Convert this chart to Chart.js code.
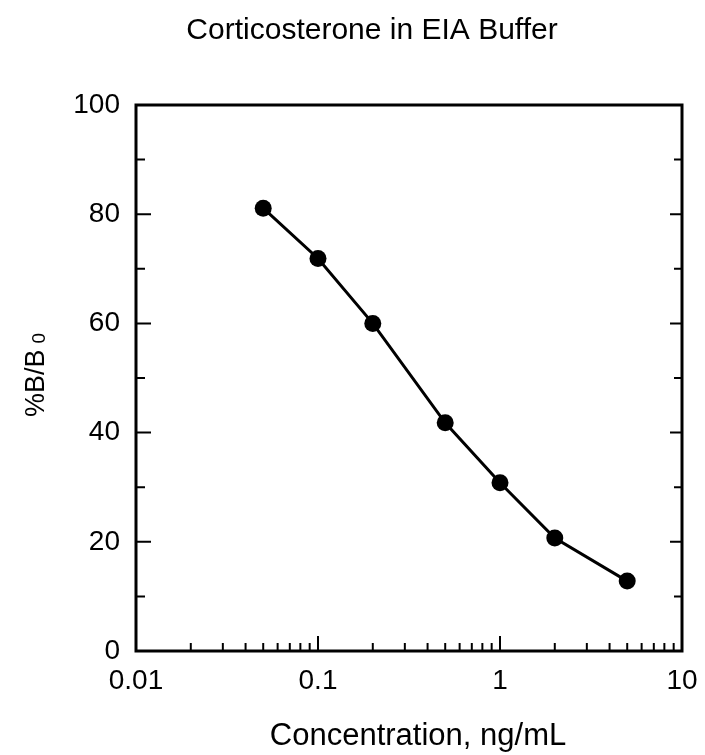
<!DOCTYPE html>
<html>
<head>
<meta charset="utf-8">
<title>Corticosterone in EIA Buffer</title>
<script src="https://cdn.jsdelivr.net/npm/chart.js@4.4.1/dist/chart.umd.min.js"></script>
<style>
  html, body { margin: 0; padding: 0; background: #fff; }
  #wrap { width: 705px; height: 755px; }
</style>
</head>
<body>
<div id="wrap"><canvas id="curve" width="705" height="755"></canvas></div>
<script>
// standard curve
const concentrations = [0.05, 0.1, 0.2, 0.5, 1, 2, 5];
const percentBound = [81.1, 71.9, 60.0, 41.8, 30.8, 20.7, 12.8];

const xMajorTicks = [0.01, 0.1, 1, 10];
const xMinorTicks = [
    0.02, 0.03, 0.04, 0.05, 0.06, 0.07, 0.08, 0.09,
    0.2, 0.3, 0.4, 0.5, 0.6, 0.7, 0.8, 0.9,
    2, 3, 4, 5, 6, 7, 8, 9,
];
const yMajorTicks = [0, 20, 40, 60, 80, 100];
const yMinorTicks = [10, 30, 50, 70, 90];

const FONT = "'Liberation Sans', Arial, Helvetica, sans-serif";
const INK = "#000";

// box round the plot plus the inward tick marks
const framePlugin = {
    id: "frame",
    afterDatasetsDraw(chart) {
        const { ctx, chartArea: a, scales } = chart;
        const x = scales.x;
        const y = scales.y;
        ctx.save();
        ctx.strokeStyle = INK;
        ctx.lineCap = "butt";

        ctx.lineWidth = 2;
        for (const v of xMajorTicks) {
            const px = x.getPixelForValue(v);
            ctx.beginPath();
            ctx.moveTo(px, a.bottom);
            ctx.lineTo(px, a.bottom - 15);
            ctx.stroke();
        }
        for (const v of xMinorTicks) {
            const px = x.getPixelForValue(v);
            ctx.beginPath();
            ctx.moveTo(px, a.bottom);
            ctx.lineTo(px, a.bottom - 8);
            ctx.stroke();
        }
        for (const v of yMajorTicks) {
            const py = y.getPixelForValue(v);
            ctx.beginPath();
            ctx.moveTo(a.left, py);
            ctx.lineTo(a.left + 15, py);
            ctx.moveTo(a.right, py);
            ctx.lineTo(a.right - 12, py);
            ctx.stroke();
        }
        for (const v of yMinorTicks) {
            const py = y.getPixelForValue(v);
            ctx.beginPath();
            ctx.moveTo(a.left, py);
            ctx.lineTo(a.left + 9, py);
            ctx.moveTo(a.right, py);
            ctx.lineTo(a.right - 8, py);
            ctx.stroke();
        }

        ctx.lineWidth = 3;
        ctx.strokeRect(a.left, a.top, a.right - a.left, a.bottom - a.top);
        ctx.restore();
    },
};

// title and axis captions (the y caption needs a subscript)
const captionPlugin = {
    id: "captions",
    afterDraw(chart) {
        const { ctx } = chart;
        ctx.save();
        ctx.fillStyle = INK;
        ctx.textBaseline = "alphabetic";

        ctx.font = `30px ${FONT}`;
        ctx.textAlign = "center";
        ctx.fillText("Corticosterone in EIA Buffer", 372, 39);

        ctx.font = `31px ${FONT}`;
        ctx.fillText("Concentration, ng/mL", 418, 745);

        ctx.translate(44, 417);
        ctx.rotate(-Math.PI / 2);
        ctx.textAlign = "left";
        ctx.font = `27px ${FONT}`;
        const main = "%B/B";
        ctx.fillText(main, 0, 0);
        const w = ctx.measureText(main).width;
        ctx.font = `19px ${FONT}`;
        ctx.fillText("0", w + 6, 1);
        ctx.restore();
    },
};

new Chart(document.getElementById("curve"), {
    type: "scatter",
    data: {
        datasets: [
            {
                label: "Corticosterone",
                data: concentrations.map((c, i) => ({ x: c, y: percentBound[i] })),
                showLine: true,
                borderColor: INK,
                borderWidth: 3,
                tension: 0,
                pointRadius: 8.5,
                pointHoverRadius: 8.5,
                pointBackgroundColor: INK,
                pointBorderWidth: 0,
            },
        ],
    },
    options: {
        responsive: false,
        animation: false,
        devicePixelRatio: 1,
        layout: { padding: { top: 105, right: 23, left: 0, bottom: 0 } },
        plugins: {
            legend: { display: false },
            title: { display: false },
            tooltip: { enabled: false },
        },
        scales: {
            x: {
                type: "logarithmic",
                min: 0.01,
                max: 10,
                grid: { display: false, drawTicks: false },
                border: { display: false },
                afterBuildTicks: (scale) => {
                    scale.ticks = xMajorTicks.map((v) => ({ value: v }));
                },
                afterFit: (scale) => {
                    scale.height = 104;
                    scale.paddingLeft = 0;
                    scale.paddingRight = 0;
                },
                ticks: {
                    autoSkip: false,
                    maxRotation: 0,
                    padding: 13,
                    color: INK,
                    font: { family: FONT, size: 28 },
                    callback: (v) => String(v),
                },
            },
            y: {
                min: 0,
                max: 100,
                grid: { display: false, drawTicks: false },
                border: { display: false },
                afterBuildTicks: (scale) => {
                    scale.ticks = yMajorTicks.map((v) => ({ value: v }));
                },
                afterFit: (scale) => {
                    scale.width = 136;
                    scale.paddingTop = 0;
                    scale.paddingBottom = 0;
                },
                ticks: {
                    padding: 16,
                    color: INK,
                    font: { family: FONT, size: 28 },
                },
            },
        },
    },
    plugins: [framePlugin, captionPlugin],
});
</script>
</body>
</html>
